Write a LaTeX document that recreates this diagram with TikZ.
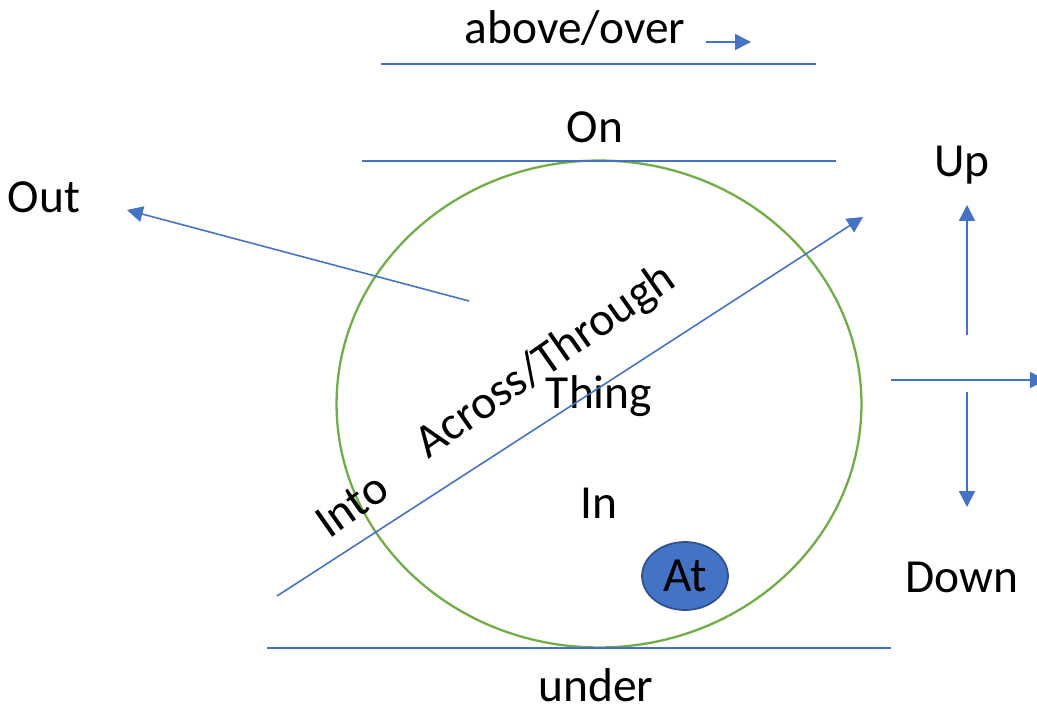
\documentclass[tikz,border=0pt]{standalone}
\usepackage{fontspec}
\setmainfont{Carlito}
\usepackage{tikz}
\usetikzlibrary{arrows.meta}
\usetikzlibrary{shapes.geometric}
\usepackage{xcolor}
\definecolor{lineblue}{HTML}{4472C4}
\definecolor{edgeblue}{HTML}{2F528F}
\definecolor{thinggreen}{HTML}{70AD47}

\begin{document}
\begin{tikzpicture}[x=0.02cm,y=-0.02cm,
word/.style={font=\fontsize{27}{30}\selectfont,inner sep=0pt},
rule/.style={lineblue,line width=0.9pt},
pointer/.style={lineblue,line width=0.9pt,-{Triangle[length=9pt,width=9pt]}}]
\useasboundingbox (0,0) rectangle (1037,706);

% the thing
\node (Thing) [draw=thinggreen,line width=1.3pt,ellipse,
  inner sep=0pt,minimum width=10.5cm,minimum height=9.74cm] at (599,404) {};
\node (ThingText) [word] at (599,396) {Thing};
\node (InText) [word] at (599,503) {In};
\node (At) [draw=edgeblue,fill=lineblue,ellipse,line width=1pt,minimum width=1.72cm,
  minimum height=1.36cm,inner sep=0pt,font=\fontsize{28}{30}\selectfont] at (685,576) {At};

% lines above and below
\coordinate (aboveL) at (381,64);
\coordinate (aboveR) at (816,64);
\draw[rule] (aboveL) -- (aboveR);
\node (Above) [word] at (575,28) {above/over};
\coordinate (aboveA) at (706,42);
\coordinate (aboveB) at (751,42);
\draw[pointer] (aboveA) -- (aboveB);

\coordinate (onL) at (362,161);
\coordinate (onR) at (836,161);
\draw[rule] (onL) -- (onR);
\node (On) [word] at (595,127) {On};

\coordinate (underL) at (267,648);
\coordinate (underR) at (891,648);
\draw[rule] (underL) -- (underR);
\node (Under) [word] at (596,685) {under};

% out
\node (Out) [word] at (44,197) {Out};
\coordinate (outA) at (469,301);
\coordinate (outB) at (127,210);
\draw[pointer] (outA) -- (outB);

% across
\coordinate (crossA) at (277,596);
\coordinate (crossB) at (863,217);
\draw[pointer] (crossA) -- (crossB);
\node (Across) [word,rotate=35] at (546,362) {Across/Through};
\node (Into) [word,rotate=35] at (352,505) {Into};

% up and down
\node (Up) [word] at (962,165) {Up};
\coordinate (upA) at (967,335);
\coordinate (upB) at (967,205);
\draw[pointer] (upA) -- (upB);
\coordinate (sideA) at (891,380);
\coordinate (sideB) at (1046,380);
\draw[pointer] (sideA) -- (sideB);
\coordinate (downA) at (967,392);
\coordinate (downB) at (967,507);
\draw[pointer] (downA) -- (downB);
\node (Down) [word] at (962,577) {Down};
\end{tikzpicture}
\end{document}
